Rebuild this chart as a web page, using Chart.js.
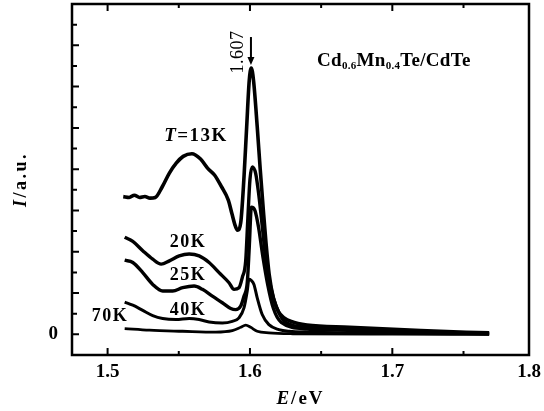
<!DOCTYPE html>
<html>
<head>
<meta charset="utf-8">
<script src="https://cdn.jsdelivr.net/npm/chart.js@4"></script>
<style>
  html, body { margin: 0; padding: 0; background: #fff; }
  canvas { display: block; }
</style>
</head>
<body>
<canvas id="pl" width="544" height="411"></canvas>
<script>
// photon energy (eV) and intensity (arb. units)
const e13 = [1.511, 1.5152, 1.5188, 1.5225, 1.5262, 1.5298, 1.5335, 1.5384, 1.5433, 1.5482, 1.5531, 1.5592, 1.5653, 1.5702, 1.5751, 1.58, 1.5848, 1.5873, 1.5897, 1.5912, 1.5935, 1.5958, 1.5977, 1.5995, 1.6009, 1.6025, 1.6051, 1.6072, 1.6093, 1.6113, 1.6135, 1.6165, 1.62, 1.624, 1.629, 1.64, 1.67, 1.72, 1.768];
const i13 = [6.67, 6.63, 6.74, 6.63, 6.68, 6.6, 6.63, 7.15, 7.8, 8.29, 8.62, 8.75, 8.49, 8.05, 7.72, 7.15, 6.5, 5.85, 5.25, 5.04, 5.4, 7.6, 10.06, 12.3, 12.9, 12.3, 10.06, 8.0, 6.1, 4.4, 2.9, 1.75, 1.1, 0.8, 0.62, 0.45, 0.34, 0.18, 0.07];

const e20 = [1.512, 1.5177, 1.5247, 1.5317, 1.5376, 1.5434, 1.5503, 1.5573, 1.5643, 1.5713, 1.5783, 1.5853, 1.5888, 1.5923, 1.5946, 1.597, 1.5985, 1.6, 1.6016, 1.604, 1.6063, 1.6087, 1.611, 1.614, 1.617, 1.624, 1.64, 1.67, 1.72, 1.768];
const i20 = [4.7, 4.5, 4.05, 3.64, 3.4, 3.56, 3.8, 3.89, 3.8, 3.48, 2.99, 2.5, 2.18, 2.26, 2.75, 3.56, 5.6, 7.5, 8.11, 7.8, 6.7, 5.2, 3.7, 2.5, 1.65, 0.65, 0.34, 0.26, 0.12, 0.04];

const e25 = [1.512, 1.5177, 1.5247, 1.5317, 1.5387, 1.5457, 1.5527, 1.5608, 1.5666, 1.5736, 1.5806, 1.5865, 1.59, 1.5935, 1.5958, 1.5981, 1.5995, 1.601, 1.6035, 1.606, 1.609, 1.6125, 1.6165, 1.622, 1.64, 1.67, 1.72, 1.768];
const i25 = [3.59, 3.48, 2.99, 2.42, 2.1, 2.1, 2.26, 2.34, 2.18, 1.85, 1.53, 1.25, 1.2, 1.37, 1.85, 2.5, 4.2, 6.16, 6.0, 5.2, 3.8, 2.4, 1.25, 0.58, 0.26, 0.2, 0.1, 0.03];

const e40 = [1.512, 1.5177, 1.5247, 1.5317, 1.5387, 1.548, 1.5573, 1.5643, 1.5713, 1.5806, 1.5876, 1.5923, 1.5958, 1.5981, 1.5993, 1.6008, 1.6028, 1.6051, 1.6086, 1.6133, 1.6203, 1.6273, 1.66, 1.72, 1.768];
const i40 = [1.56, 1.41, 1.16, 0.91, 0.77, 0.72, 0.77, 0.72, 0.6, 0.55, 0.63, 0.8, 1.28, 2.1, 2.67, 2.62, 2.42, 1.77, 0.96, 0.47, 0.23, 0.15, 0.08, 0.04, 0.02];

const e70 = [1.512, 1.5294, 1.5527, 1.576, 1.5876, 1.5935, 1.597, 1.6005, 1.6051, 1.6133, 1.63, 1.7, 1.768];
const i70 = [0.28, 0.2, 0.15, 0.11, 0.18, 0.34, 0.45, 0.34, 0.15, 0.07, 0.03, 0.01, 0.0];

const xTickValues = [1.5, 1.55, 1.6, 1.65, 1.7, 1.75, 1.8];
const xTickLabels = ['1.5', '', '1.6', '', '1.7', '', '1.8'];
const xMin = 1.475, xMax = 1.796;
const yMin = -1, yMax = 16;

function pts(xs, ys) {
  return xs.map((x, i) => ({ x: x, y: ys[i] }));
}

const serif = '"Liberation Serif", "DejaVu Serif", serif';

// draws a run of text pieces with their own fonts, centred or left aligned
function rich(ctx, parts, x, y, align, spacing) {
  ctx.letterSpacing = spacing + 'px';
  let w = 0;
  parts.forEach(p => { ctx.font = p.font; p.w = ctx.measureText(p.t).width; w += p.w; });
  let cx = align === 'center' ? x - w / 2 : x;
  ctx.textAlign = 'left';
  ctx.textBaseline = 'middle';
  parts.forEach(p => {
    ctx.font = p.font;
    ctx.fillText(p.t, cx, y + (p.dy || 0));
    cx += p.w;
  });
  ctx.letterSpacing = '0px';
}

const decor = {
  id: 'decor',
  afterDraw(chart) {
    const ctx = chart.ctx, a = chart.chartArea;
    const xs = chart.scales.x, ys = chart.scales.y;
    ctx.save();
    ctx.strokeStyle = '#000';
    ctx.fillStyle = '#000';

    // frame
    ctx.lineWidth = 2.5;
    ctx.strokeRect(a.left, a.top, a.right - a.left, a.bottom - a.top);

    // inward ticks
    ctx.lineWidth = 2;
    ctx.beginPath();
    xTickValues.forEach((v, i) => {
      if (v > xMax) return;
      const px = xs.getPixelForValue(v);
      const len = i % 2 === 0 ? 7 : 4;
      ctx.moveTo(px, a.bottom); ctx.lineTo(px, a.bottom - len);
      ctx.moveTo(px, a.top); ctx.lineTo(px, a.top + len);
    });
    for (let v = yMin; v < yMax; v++) {
      const py = ys.getPixelForValue(v);
      const len = v % 2 === 0 ? 7 : 5;
      ctx.moveTo(a.left, py); ctx.lineTo(a.left + len, py);
    }
    ctx.stroke();

    // arrow to the peak
    const ax = xs.getPixelForValue(1.6007);
    const y0 = ys.getPixelForValue(14.4), y1 = ys.getPixelForValue(13.05);
    ctx.lineWidth = 2;
    ctx.beginPath();
    ctx.moveTo(ax, y0); ctx.lineTo(ax, y1 - 6);
    ctx.stroke();
    ctx.beginPath();
    ctx.moveTo(ax - 3.5, y1 - 8); ctx.lineTo(ax + 3.5, y1 - 8); ctx.lineTo(ax, y1);
    ctx.closePath();
    ctx.fill();

    const b19 = 'bold 19px ' + serif, bi19 = 'italic bold 19px ' + serif;
    const b18 = 'bold 18px ' + serif;
    rich(ctx, [{ t: 'T', font: bi19 }, { t: '=13K', font: b19 }], 196, 136, 'center', 1.5);
    rich(ctx, [{ t: '20K', font: b18 }], 188, 242, 'center', 1.5);
    rich(ctx, [{ t: '25K', font: b18 }], 188, 275, 'center', 1.5);
    rich(ctx, [{ t: '40K', font: b18 }], 188, 310, 'center', 1.5);
    rich(ctx, [{ t: '70K', font: b18 }], 110, 316, 'center', 1.5);

    const s11 = 'bold 11px ' + serif;
    rich(ctx, [
      { t: 'Cd', font: b19 }, { t: '0.6', font: s11, dy: 5 },
      { t: 'Mn', font: b19 }, { t: '0.4', font: s11, dy: 5 },
      { t: 'Te/CdTe', font: b19 }
    ], 317, 61, 'left', 0.3);

    // peak energy, written upwards
    ctx.save();
    ctx.translate(238, 52);
    ctx.rotate(-Math.PI / 2);
    rich(ctx, [{ t: '1.607', font: '18px ' + serif }], 0, 0, 'center', 0.5);
    ctx.restore();

    // axis titles
    rich(ctx, [{ t: 'E', font: bi19 }, { t: '/eV', font: b19 }], a.left + (a.right - a.left) / 2, 399, 'center', 2);
    ctx.save();
    ctx.translate(21, (a.top + a.bottom) / 2);
    ctx.rotate(-Math.PI / 2);
    rich(ctx, [{ t: 'I', font: 'italic bold 18px ' + serif }, { t: '/a.u.', font: 'bold 18px ' + serif }], 0, 0, 'center', 2.5);
    ctx.restore();

    ctx.restore();
  }
};

const curve = (data, w) => ({
  data: data,
  borderColor: '#000',
  borderWidth: w,
  pointRadius: 0,
  fill: false,
  cubicInterpolationMode: 'monotone'
});

new Chart(document.getElementById('pl'), {
  type: 'line',
  data: {
    datasets: [
      curve(pts(e13, i13), 3.6),
      curve(pts(e20, i20), 3.4),
      curve(pts(e25, i25), 3.4),
      curve(pts(e40, i40), 3),
      curve(pts(e70, i70), 2.8)
    ]
  },
  options: {
    responsive: false,
    animation: false,
    layout: { padding: { top: 4, right: 15, left: 0, bottom: 0 } },
    plugins: { legend: { display: false }, tooltip: { enabled: false } },
    scales: {
      x: {
        type: 'linear',
        min: xMin,
        max: xMax,
        grid: { display: false, drawTicks: false },
        border: { display: false },
        afterBuildTicks(scale) {
          scale.ticks = xTickValues.map(v => ({ value: Math.min(v, xMax) }));
        },
        afterFit(scale) {
          scale.height = 56;
          scale.paddingLeft = 0;
          scale.paddingRight = 0;
        },
        ticks: {
          autoSkip: false,
          maxRotation: 0,
          padding: 6,
          color: '#000',
          font: { family: serif, size: 19, weight: 'bold' },
          callback: (v, i) => xTickLabels[i]
        }
      },
      y: {
        min: yMin,
        max: yMax,
        grid: { display: false, drawTicks: false },
        border: { display: false },
        afterFit(scale) {
          scale.width = 72;
          scale.paddingTop = 0;
          scale.paddingBottom = 0;
        },
        ticks: {
          stepSize: 1,
          autoSkip: false,
          padding: 14,
          color: '#000',
          font: { family: serif, size: 19, weight: 'bold' },
          callback: v => (v === 0 ? '0' : '')
        }
      }
    }
  },
  plugins: [decor]
});
</script>
</body>
</html>
